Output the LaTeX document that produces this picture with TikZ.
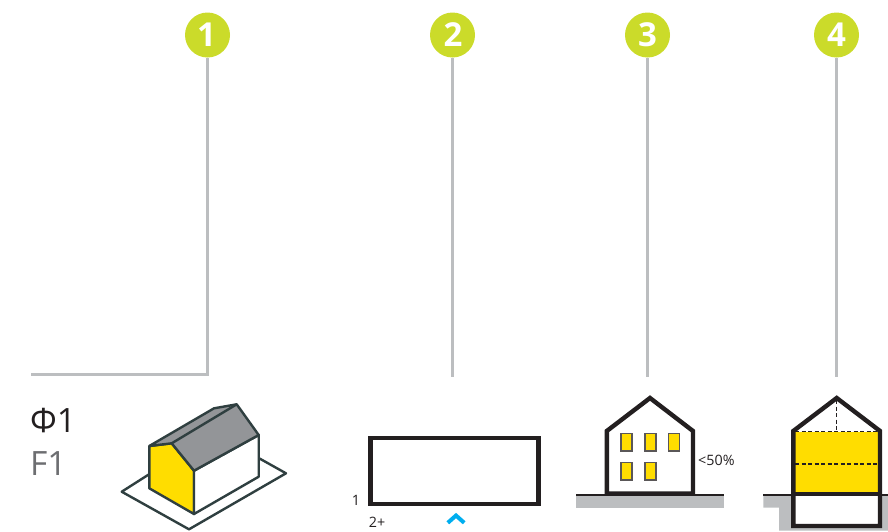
\documentclass[tikz,border=0pt]{standalone}
\usepackage{fontspec}
\setmainfont{Open Sans}
\definecolor{lime}{HTML}{CBDB2A}
\definecolor{leader}{HTML}{BCBEC0}
\definecolor{ink}{HTML}{231F20}
\definecolor{slate}{HTML}{2F3F40}
\definecolor{roofgray}{HTML}{939598}
\definecolor{sun}{HTML}{FFDD00}
\definecolor{skyb}{HTML}{00AEEF}
\definecolor{fgray}{HTML}{6D6E71}
\tikzset{
  badge/.style={circle,fill=lime,text=white,minimum size=45pt,inner sep=0pt,font=\fontsize{33}{33}\selectfont\bfseries},
  leaderline/.style={draw=leader,line width=3pt},
  wall/.style={draw=ink,line width=4.4pt,line join=miter},
  iso/.style={draw=slate,line width=2.4pt,line join=round},
  win/.style={fill=sun,draw=ink!75,line width=1.3pt},
  smalltxt/.style={text=ink,inner sep=0pt,font=\fontsize{14.3}{14.3}\selectfont},
  bigtxt/.style={inner sep=0pt,anchor=west,font=\fontsize{33.5}{33.5}\selectfont},
  soil/.style={fill=leader,draw=none},
  groundline/.style={draw=ink,line width=1.1pt},
  floorline/.style={draw=ink,line width=1.2pt,dash pattern=on 4pt off 2.5pt}
}
\begin{document}
\begin{tikzpicture}[x=1pt,y=-1pt]
\useasboundingbox (0,0) rectangle (888,531);
% badges and leaders
\node[badge] (b1) at (207.5,35) {\kern-2pt 1};
\node[badge] (b2) at (452.5,35) {\kern1pt 2};
\node[badge] (b3) at (647.5,35) {3};
\node[badge] (b4) at (836.5,35) {4};
\coordinate (c1) at (207.5,374.5);
\coordinate (c0) at (31,374.5);
\coordinate (c2) at (452.5,377);
\coordinate (c3) at (647,377);
\coordinate (c4) at (836.5,377);
\draw[leaderline] (b1.south) -- (c1) -- (c0);
\draw[leaderline] (b2.south) -- (c2);
\draw[leaderline] (b3.south -| c3) -- (c3);
\draw[leaderline] (b4.south) -- (c4);
% labels
\node[bigtxt,text=ink] (phi) at (30,421) {Φ1};
\node[bigtxt,text=fgray] (f1) at (30,464) {F1};
% isometric house
\draw[iso,fill=white] (121.7,491.7) -- (189,529.3) -- (286,473.3) -- (214,433) -- cycle;
\path[fill=white] (149.3,446) -- (149.3,488.3) -- (194,514) -- (258.7,476.7) -- (258.7,435) -- (214,420) -- cycle;
\draw[iso,fill=sun] (149.3,446) -- (171.7,443.3) -- (194,470.7) -- (194,514) -- (149.3,488.3) -- cycle;
\draw[iso,fill=white] (194,470.7) -- (258.7,435) -- (258.7,476.7) -- (194,514) -- cycle;
\draw[iso,fill=roofgray] (149.3,446) -- (214,408.3) -- (236.7,404.3) -- (258.7,435) -- (194,470.7) -- (171.7,443.3) -- cycle;
\draw[iso] (171.7,443.3) -- (236.7,404.3);
% plan
\node[draw=ink,line width=4.4pt,minimum width=168pt,minimum height=65.5pt,inner sep=0pt] (plan) at (454.5,471) {};
\node[smalltxt] (n1) at (356,500) {1};
\node[smalltxt] (n2) at (377,522) {2+};
\draw[draw=skyb,line width=4pt,line join=miter] (447.8,522.8) -- (456,515.5) -- (464.2,522.8);
% elevation
\path[soil] (576,495) rectangle (724,507.5);
\draw[groundline] (576,495) -- (724,495);
\draw[wall,fill=white] (606.8,493.5) -- (606.8,431) -- (650,398) -- (693,431) -- (693,493.5) -- cycle;
\foreach \x/\y in {621/433.5,645/433.5,668.5/433.5,621/462.5,645/462.5}
  \draw[win] (\x,\y) rectangle ++(11,17.5);
\node[smalltxt,anchor=west] (pct) at (698,460.5) {<50\%};
% section
\path[soil] (763.3,495) -- (888,495) -- (888,530.5) -- (779,530.5) -- (779,507.7) -- (763.3,507.7) -- cycle;
\draw[groundline] (763.3,495) -- (888,495);
\path[fill=white] (793.3,431) -- (836.7,398) -- (880,431) -- cycle;
\path[fill=white] (793.3,493.7) rectangle (880,526);
\path[fill=sun] (795,431.7) rectangle (878,492);
\draw[floorline] (795,431.7) -- (878,431.7);
\draw[floorline] (795,464) -- (878,464);
\draw[floorline] (836.7,400) -- (836.7,431.7);
\draw[wall] (793.3,526) -- (793.3,431) -- (836.7,398) -- (880,431) -- (880,526) -- cycle;
\draw[wall] (793.3,493.7) -- (880,493.7);
\end{tikzpicture}
\end{document}
